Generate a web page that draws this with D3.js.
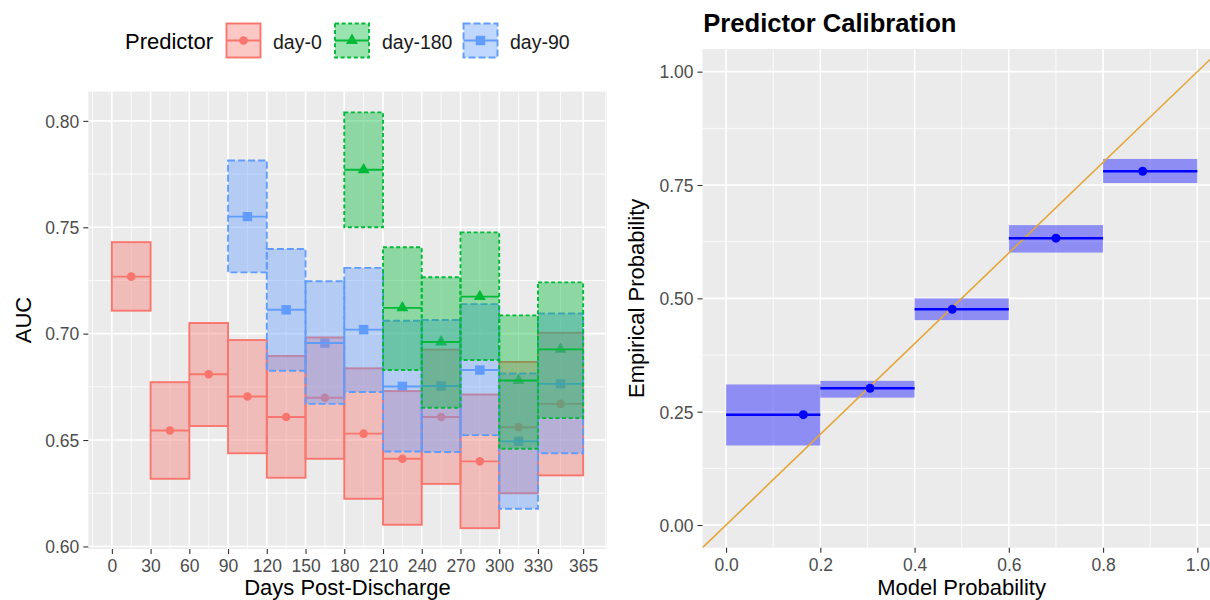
<!DOCTYPE html>
<html>
<head>
<meta charset="utf-8">
<script src="https://cdn.jsdelivr.net/npm/d3@7"></script>
<style>
  body { margin: 0; background: #fff; }
  svg { display: block; font-family: "Liberation Sans", Arial, sans-serif; }
</style>
</head>
<body>
<svg id="chart" width="1210" height="600"></svg>
<script>
// ---------------- DATA ----------------
// Left panel: AUC by 30-day window
const binStart = [0, 30, 60, 90, 120, 150, 180, 210, 240, 270, 300, 330];
const binEnd   = [30, 60, 90, 120, 150, 180, 210, 240, 270, 300, 330, 365];
const dayTicks = [0, 30, 60, 90, 120, 150, 180, 210, 240, 270, 300, 330, 365];
const aucTicks = [0.60, 0.65, 0.70, 0.75, 0.80];

// day-0 predictor (windows 0-30 ... 330-365)
const day0Lo  = [0.7108, 0.6318, 0.6566, 0.6438, 0.6323, 0.6412, 0.6224, 0.6102, 0.6294, 0.6086, 0.6250, 0.6334];
const day0Mid = [0.7268, 0.6545, 0.6809, 0.6705, 0.6608, 0.6699, 0.6530, 0.6412, 0.6608, 0.6400, 0.6560, 0.6670];
const day0Hi  = [0.7430, 0.6772, 0.7050, 0.6970, 0.6895, 0.6982, 0.6837, 0.6730, 0.6925, 0.6714, 0.6867, 0.7004];

// day-90 predictor (windows 90-120 ... 330-365)
const day90Start = [90, 120, 150, 180, 210, 240, 270, 300, 330];
const day90End   = [120, 150, 180, 210, 240, 270, 300, 330, 365];
const day90Lo  = [0.7288, 0.6826, 0.6670, 0.6726, 0.6446, 0.6444, 0.6523, 0.6177, 0.6438];
const day90Mid = [0.7550, 0.7112, 0.6956, 0.7019, 0.6752, 0.6754, 0.6829, 0.6494, 0.6764];
const day90Hi  = [0.7814, 0.7398, 0.7246, 0.7309, 0.7061, 0.7064, 0.7139, 0.6813, 0.7095];

// day-180 predictor (windows 180-210 ... 330-365)
const day180Start = [180, 210, 240, 270, 300, 330];
const day180End   = [210, 240, 270, 300, 330, 365];
const day180Lo  = [0.7500, 0.6829, 0.6652, 0.6876, 0.6459, 0.6603];
const day180Mid = [0.7770, 0.7121, 0.6961, 0.7174, 0.6780, 0.6926];
const day180Hi  = [0.8040, 0.7406, 0.7265, 0.7476, 0.7086, 0.7241];

const legendNames = ["day-0", "day-180", "day-90"];

// Right panel: calibration
const calBinLo   = [0.0, 0.2, 0.4, 0.6, 0.8];
const calBinHi   = [0.2, 0.4, 0.6, 0.8, 1.0];
const calModel   = [0.164, 0.3055, 0.480, 0.700, 0.884];
const calEmp     = [0.2434, 0.3016, 0.4757, 0.6327, 0.7803];
const calLower   = [0.1755, 0.2810, 0.4520, 0.6010, 0.7544];
const calUpper   = [0.3100, 0.3180, 0.5000, 0.6615, 0.8075];
const probTicksX = [0.0, 0.2, 0.4, 0.6, 0.8, 1.0];
const probTicksY = [0.00, 0.25, 0.50, 0.75, 1.00];

// ---------------- SETUP ----------------
const svg = d3.select("#chart");
svg.append("rect").attr("width", 1210).attr("height", 600).attr("fill", "#fff");

const TICK_FONT = 17.5, TITLE_FONT = 22;
const TICK_COL = "#4D4D4D";
const LW = 1.9;

function drawPanel(g, x, y, xMajor, xMinor, yMajor, yMinor) {
  const [x0, x1] = x.range(), [y0, y1] = y.range();
  g.append("rect").attr("x", x0).attr("y", y1).attr("width", x1 - x0).attr("height", y0 - y1)
    .attr("fill", "#EBEBEB");
  g.selectAll(".vminor").data(xMinor).join("line")
    .attr("x1", d => x(d)).attr("x2", d => x(d)).attr("y1", y0).attr("y2", y1)
    .attr("stroke", "#fff").attr("stroke-width", 0.8);
  g.selectAll(".hminor").data(yMinor).join("line")
    .attr("y1", d => y(d)).attr("y2", d => y(d)).attr("x1", x0).attr("x2", x1)
    .attr("stroke", "#fff").attr("stroke-width", 0.8);
  g.selectAll(".vmajor").data(xMajor).join("line")
    .attr("x1", d => x(d)).attr("x2", d => x(d)).attr("y1", y0).attr("y2", y1)
    .attr("stroke", "#fff").attr("stroke-width", 1.6);
  g.selectAll(".hmajor").data(yMajor).join("line")
    .attr("y1", d => y(d)).attr("y2", d => y(d)).attr("x1", x0).attr("x2", x1)
    .attr("stroke", "#fff").attr("stroke-width", 1.6);
}

function drawAxes(g, x, y, xTicks, yTicks, xFmt, yFmt, xLabelBase) {
  const [x0] = x.range(), [y0] = y.range();
  const xa = d3.axisBottom(x).tickValues(xTicks).tickFormat(xFmt).tickSize(5).tickPadding(4);
  const ya = d3.axisLeft(y).tickValues(yTicks).tickFormat(yFmt).tickSize(5).tickPadding(4);
  const gx = g.append("g").attr("transform", `translate(0,${y0})`).call(xa);
  const gy = g.append("g").attr("transform", `translate(${x0},0)`).call(ya);
  [gx, gy].forEach(a => {
    a.select(".domain").remove();
    a.selectAll(".tick line").attr("stroke", "#333").attr("stroke-width", 1.1);
    a.selectAll(".tick text").attr("fill", TICK_COL).attr("font-size", TICK_FONT)
      .attr("font-family", "'Liberation Sans', Arial, sans-serif");
  });
  gx.selectAll(".tick text").attr("dy", null).attr("y", xLabelBase - y0);
  gy.selectAll(".tick text").attr("dy", "0.36em");
}

// ---------------- LEFT PANEL ----------------
const xL = d3.scaleLinear().domain([-18.25, 383.25]).range([88.3, 606.7]);
const yL = d3.scaleLinear().domain([0.5988, 0.8138]).range([549, 91.5]);

const left = svg.append("g");
const xMinorL = [-15].concat(dayTicks.slice(1).map((d, i) => (d + dayTicks[i]) / 2), [382.5]);
const yMinorL = [0.625, 0.675, 0.725, 0.775];
drawPanel(left, xL, yL, dayTicks, xMinorL, aucTicks, yMinorL);

svg.append("clipPath").attr("id", "clipL").append("rect")
  .attr("x", 88.3).attr("y", 91.5).attr("width", 606.7 - 88.3).attr("height", 549 - 91.5);
svg.append("clipPath").attr("id", "clipR").append("rect")
  .attr("x", 702.5).attr("y", 49).attr("width", 520).attr("height", 547.7 - 49);

const groups = [
  { name: "day-0",   color: "#F8766D", dash: null,  shape: d3.symbolCircle,   size: 58,
    start: binStart,    end: binEnd,    lo: day0Lo,   mid: day0Mid,   hi: day0Hi },
  { name: "day-90",  color: "#619CFF", dash: "7,3", shape: d3.symbolSquare,   size: 90,
    start: day90Start,  end: day90End,  lo: day90Lo,  mid: day90Mid,  hi: day90Hi },
  { name: "day-180", color: "#00BA38", dash: "4,2.6", shape: d3.symbolTriangle, size: 62,
    start: day180Start, end: day180End, lo: day180Lo, mid: day180Mid, hi: day180Hi }
];

const marksL = left.append("g").attr("clip-path", "url(#clipL)");
// points layer (drawn beneath the crossbars)
groups.forEach(gr => {
  marksL.append("g").selectAll("path").data(gr.mid.map((m, i) => ({ x: (gr.start[i] + gr.end[i]) / 2, y: m })))
    .join("path")
    .attr("d", d3.symbol().type(gr.shape).size(gr.size))
    .attr("transform", d => `translate(${xL(d.x)},${yL(d.y)})`)
    .attr("fill", gr.color);
});
// crossbar layer
groups.forEach(gr => {
  const rows = gr.mid.map((m, i) => ({ s: gr.start[i], e: gr.end[i], lo: gr.lo[i], mid: m, hi: gr.hi[i] }));
  const gg = marksL.append("g");
  const bars = gg.selectAll("g").data(rows).join("g");
  bars.append("rect")
    .attr("x", d => xL(d.s)).attr("width", d => xL(d.e) - xL(d.s))
    .attr("y", d => yL(d.hi)).attr("height", d => yL(d.lo) - yL(d.hi))
    .attr("fill", gr.color).attr("fill-opacity", 0.4)
    .attr("stroke", gr.color).attr("stroke-width", LW)
    .attr("stroke-dasharray", gr.dash);
  bars.append("line")
    .attr("x1", d => xL(d.s)).attr("x2", d => xL(d.e))
    .attr("y1", d => yL(d.mid)).attr("y2", d => yL(d.mid))
    .attr("stroke", gr.color).attr("stroke-width", LW);
});

drawAxes(left, xL, yL, dayTicks, aucTicks, d => String(d), d3.format(".2f"), 572);

svg.append("text").attr("x", 347.5).attr("y", 594.5).attr("text-anchor", "middle")
  .attr("font-size", TITLE_FONT).attr("fill", "#000").text("Days Post-Discharge");
svg.append("text").attr("transform", "translate(31,320) rotate(-90)").attr("text-anchor", "middle")
  .attr("font-size", TITLE_FONT).attr("fill", "#000").text("AUC");

// Legend
const legend = svg.append("g");
legend.append("text").attr("x", 125).attr("y", 49.3).attr("font-size", 22).attr("fill", "#000").text("Predictor");
const legendKeyX = [226.5, 335, 463.5];
const legendLabelX = [273, 382, 510];
legendNames.forEach((nm, i) => {
  const gr = groups.find(g => g.name === nm);
  const kx = legendKeyX[i], ky = 23.5, ks = 34;
  const k = legend.append("g");
  k.append("rect").attr("x", kx).attr("y", ky).attr("width", ks).attr("height", ks)
    .attr("fill", gr.color).attr("fill-opacity", 0.4)
    .attr("stroke", gr.color).attr("stroke-width", LW).attr("stroke-dasharray", gr.dash);
  k.append("line").attr("x1", kx).attr("x2", kx + ks).attr("y1", ky + ks / 2).attr("y2", ky + ks / 2)
    .attr("stroke", gr.color).attr("stroke-width", LW);
  k.append("path").attr("d", d3.symbol().type(gr.shape).size(gr.size)())
    .attr("transform", `translate(${kx + ks / 2},${ky + ks / 2})`).attr("fill", gr.color);
  legend.append("text").attr("x", legendLabelX[i]).attr("y", 48.5).attr("font-size", 19.5)
    .attr("fill", "#1A1A1A").text(nm);
});

// ---------------- RIGHT PANEL ----------------
const xR = d3.scaleLinear().domain([-0.05, 1.05]).range([702.5, 1220.9]);
const yR = d3.scaleLinear().domain([-0.05, 1.05]).range([547.7, 49]);
const right = svg.append("g");
drawPanel(right, xR, yR, probTicksX, [0.1, 0.3, 0.5, 0.7, 0.9], probTicksY, [0.125, 0.375, 0.625, 0.875]);

const marksR = right.append("g").attr("clip-path", "url(#clipR)");
const calRows = calEmp.map((e, i) => ({ lo: calBinLo[i], hi: calBinHi[i], m: calModel[i], e, l: calLower[i], u: calUpper[i] }));
marksR.selectAll(".calbox").data(calRows).join("rect")
  .attr("x", d => xR(d.lo)).attr("width", d => xR(d.hi) - xR(d.lo))
  .attr("y", d => yR(d.u)).attr("height", d => yR(d.l) - yR(d.u))
  .attr("fill", "#0000FF").attr("fill-opacity", 0.4);
// identity line
marksR.append("line")
  .attr("x1", xR(-0.05)).attr("y1", yR(-0.05)).attr("x2", xR(1.05)).attr("y2", yR(1.05))
  .attr("stroke", "#E2A73A").attr("stroke-width", 1.6);
marksR.selectAll(".calmid").data(calRows).join("line")
  .attr("x1", d => xR(d.lo)).attr("x2", d => xR(d.hi))
  .attr("y1", d => yR(d.e)).attr("y2", d => yR(d.e))
  .attr("stroke", "#0000FF").attr("stroke-width", 2.5);
marksR.selectAll(".calpt").data(calRows).join("circle")
  .attr("cx", d => xR(d.m)).attr("cy", d => yR(d.e)).attr("r", 4.5)
  .attr("fill", "#0000FF");

drawAxes(right, xR, yR, probTicksX, probTicksY, d3.format(".1f"), d3.format(".2f"), 571);

svg.append("text").attr("x", 961.6).attr("y", 594.5).attr("text-anchor", "middle")
  .attr("font-size", TITLE_FONT).attr("fill", "#000").text("Model Probability");
svg.append("text").attr("transform", "translate(644,298.4) rotate(-90)").attr("text-anchor", "middle")
  .attr("font-size", TITLE_FONT).attr("fill", "#000").text("Empirical Probability");
svg.append("text").attr("x", 703.3).attr("y", 31.7).attr("font-size", 25.6).attr("font-weight", "bold")
  .attr("fill", "#000").text("Predictor Calibration");
</script>
</body>
</html>
